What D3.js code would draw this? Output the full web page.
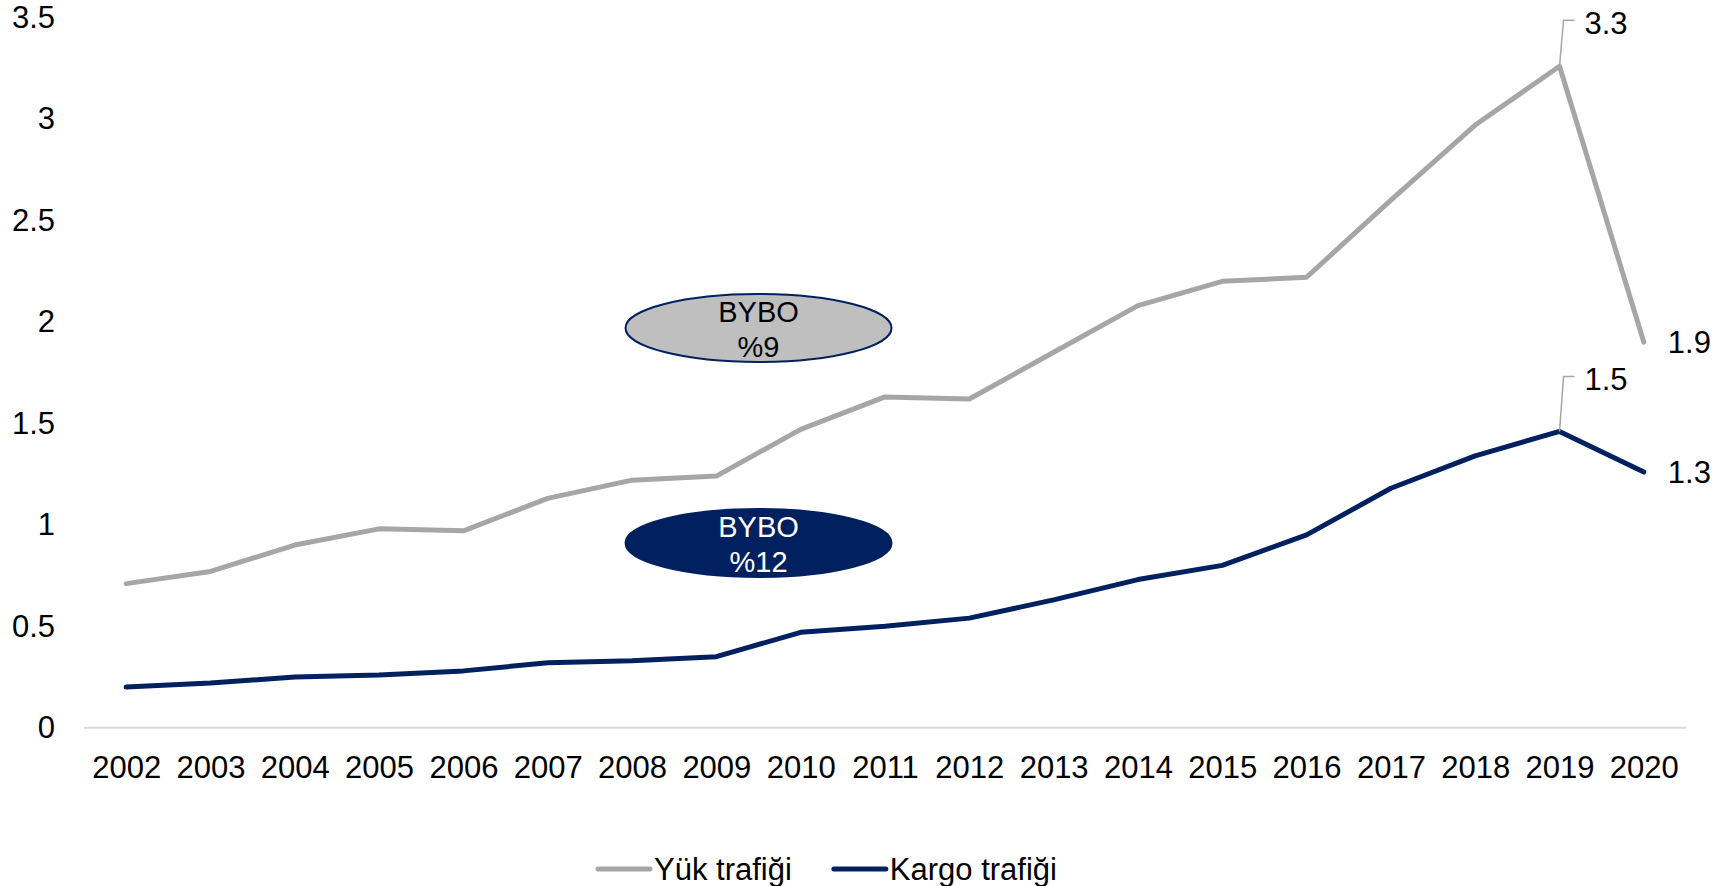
<!DOCTYPE html>
<html>
<head>
<meta charset="utf-8">
<script src="https://cdn.jsdelivr.net/npm/d3@7"></script>
<style>
  body { margin: 0; background: #fff; }
  svg { font-family: "Liberation Sans", Arial, sans-serif; }
</style>
</head>
<body>
<svg id="chart" width="1713" height="886"></svg>
<script>
// data
var years = ['2002','2003','2004','2005','2006','2007','2008','2009','2010','2011',
  '2012','2013','2014','2015','2016','2017','2018','2019','2020'];
var yukTrafigi = [0.71, 0.77, 0.90, 0.98, 0.97, 1.13, 1.22, 1.24, 1.47, 1.63,
  1.62, 1.85, 2.08, 2.20, 2.22, 2.60, 2.97, 3.26, 1.90];
var kargoTrafigi = [0.20, 0.22, 0.25, 0.26, 0.28, 0.32, 0.33, 0.35, 0.47, 0.50,
  0.54, 0.63, 0.73, 0.80, 0.95, 1.18, 1.34, 1.46, 1.26];
var yTicks = [0, 0.5, 1, 1.5, 2, 2.5, 3, 3.5];
var seriesNames = ['Yük trafiği', 'Kargo trafiği'];
var bybo = [
  {label: ['BYBO', '%9'], x: 2009.5, y: 1.97},
  {label: ['BYBO', '%12'], x: 2009.5, y: 0.91}
];

var gray = '#a6a6a6', navy = '#002060';
var fs = 31;

var svg = d3.select('#chart');

var x = d3.scalePoint()
  .domain(years)
  .range([84, 1686])
  .padding(0.5);

var y = d3.scaleLinear()
  .domain([0, 3.5])
  .range([727.7, 17.5]);

// y ekseni (sadece etiketler)
var yAxis = d3.axisLeft(y)
  .tickValues(yTicks)
  .tickSize(0)
  .tickPadding(0)
  .tickFormat(function(d) { return String(d); });

svg.append('g')
  .attr('transform', 'translate(55,0)')
  .call(yAxis)
  .call(function(g) { g.select('.domain').remove(); })
  .selectAll('text')
  .attr('font-size', fs)
  .attr('font-family', '"Liberation Sans", Arial, sans-serif')
  .attr('fill', '#000');

// x ekseni
var xAxis = d3.axisBottom(x).tickSize(0).tickPadding(28);
var gx = svg.append('g')
  .attr('transform', 'translate(0,' + y(0) + ')')
  .call(xAxis);
gx.select('.domain')
  .attr('stroke', '#d9d9d9')
  .attr('stroke-width', 2)
  .attr('d', 'M84,0H1686');
gx.selectAll('text')
  .attr('font-size', fs)
  .attr('font-family', '"Liberation Sans", Arial, sans-serif')
  .attr('fill', '#000');

// BYBO elipsleri
var xNum = function(v) {
  var i = Math.floor(v) - 2002, f = v - Math.floor(v);
  return x(years[i]) + f * x.step();
};
bybo.forEach(function(b, i) {
  var g = svg.append('g')
    .attr('transform', 'translate(' + xNum(b.x) + ',' + y(b.y) + ')');
  g.append('ellipse')
    .attr('rx', 133)
    .attr('ry', 34)
    .attr('fill', i === 0 ? '#bfbfbf' : navy)
    .attr('stroke', navy)
    .attr('stroke-width', 2);
  g.selectAll('text')
    .data(b.label)
    .enter().append('text')
    .attr('text-anchor', 'middle')
    .attr('y', function(d, j) { return j === 0 ? -16 : 19; })
    .attr('dy', '0.35em')
    .attr('font-size', 29)
    .attr('fill', i === 0 ? '#000' : '#fff')
    .text(function(d) { return d; });
});

// çizgiler
var line = d3.line()
  .x(function(d, i) { return x(years[i]); })
  .y(function(d) { return y(d); });

[[yukTrafigi, gray], [kargoTrafigi, navy]].forEach(function(s) {
  svg.append('path')
    .datum(s[0])
    .attr('fill', 'none')
    .attr('stroke', s[1])
    .attr('stroke-width', 5)
    .attr('stroke-linecap', 'round')
    .attr('stroke-linejoin', 'round')
    .attr('d', line);
});

// değer etiketleri
var last = years.length - 1, peak = years.length - 2;
function endLabel(v) {
  svg.append('text')
    .attr('x', x(years[last]) + 24)
    .attr('y', y(v))
    .attr('dy', '0.35em')
    .attr('font-size', fs)
    .text(v.toFixed(1));
}
function peakLabel(v, dyUp) {
  var px = x(years[peak]), py = y(v);
  svg.append('path')
    .attr('fill', 'none')
    .attr('stroke', '#a6a6a6')
    .attr('stroke-width', 1.5)
    .attr('d', 'M' + px + ',' + py + 'L' + (px + 4) + ',' + (py - dyUp) + 'H' + (px + 15));
  svg.append('text')
    .attr('x', px + 25)
    .attr('y', py - dyUp + 3)
    .attr('dy', '0.35em')
    .attr('font-size', fs)
    .text(v.toFixed(1));
}
peakLabel(yukTrafigi[peak], 46);
endLabel(yukTrafigi[last]);
peakLabel(kargoTrafigi[peak], 55);
endLabel(kargoTrafigi[last]);

// lejant
var lx = 596;
[[seriesNames[0], gray], [seriesNames[1], navy]].forEach(function(s) {
  svg.append('line')
    .attr('x1', lx + 2).attr('x2', lx + 54)
    .attr('y1', 869).attr('y2', 869)
    .attr('stroke', s[1])
    .attr('stroke-width', 5)
    .attr('stroke-linecap', 'round');
  var t = svg.append('text')
    .attr('x', lx + 58)
    .attr('y', 869)
    .attr('dy', '0.35em')
    .attr('font-size', fs)
    .text(s[0]);
  lx = lx + 58 + t.node().getComputedTextLength() + 40;
});
</script>
</body>
</html>
